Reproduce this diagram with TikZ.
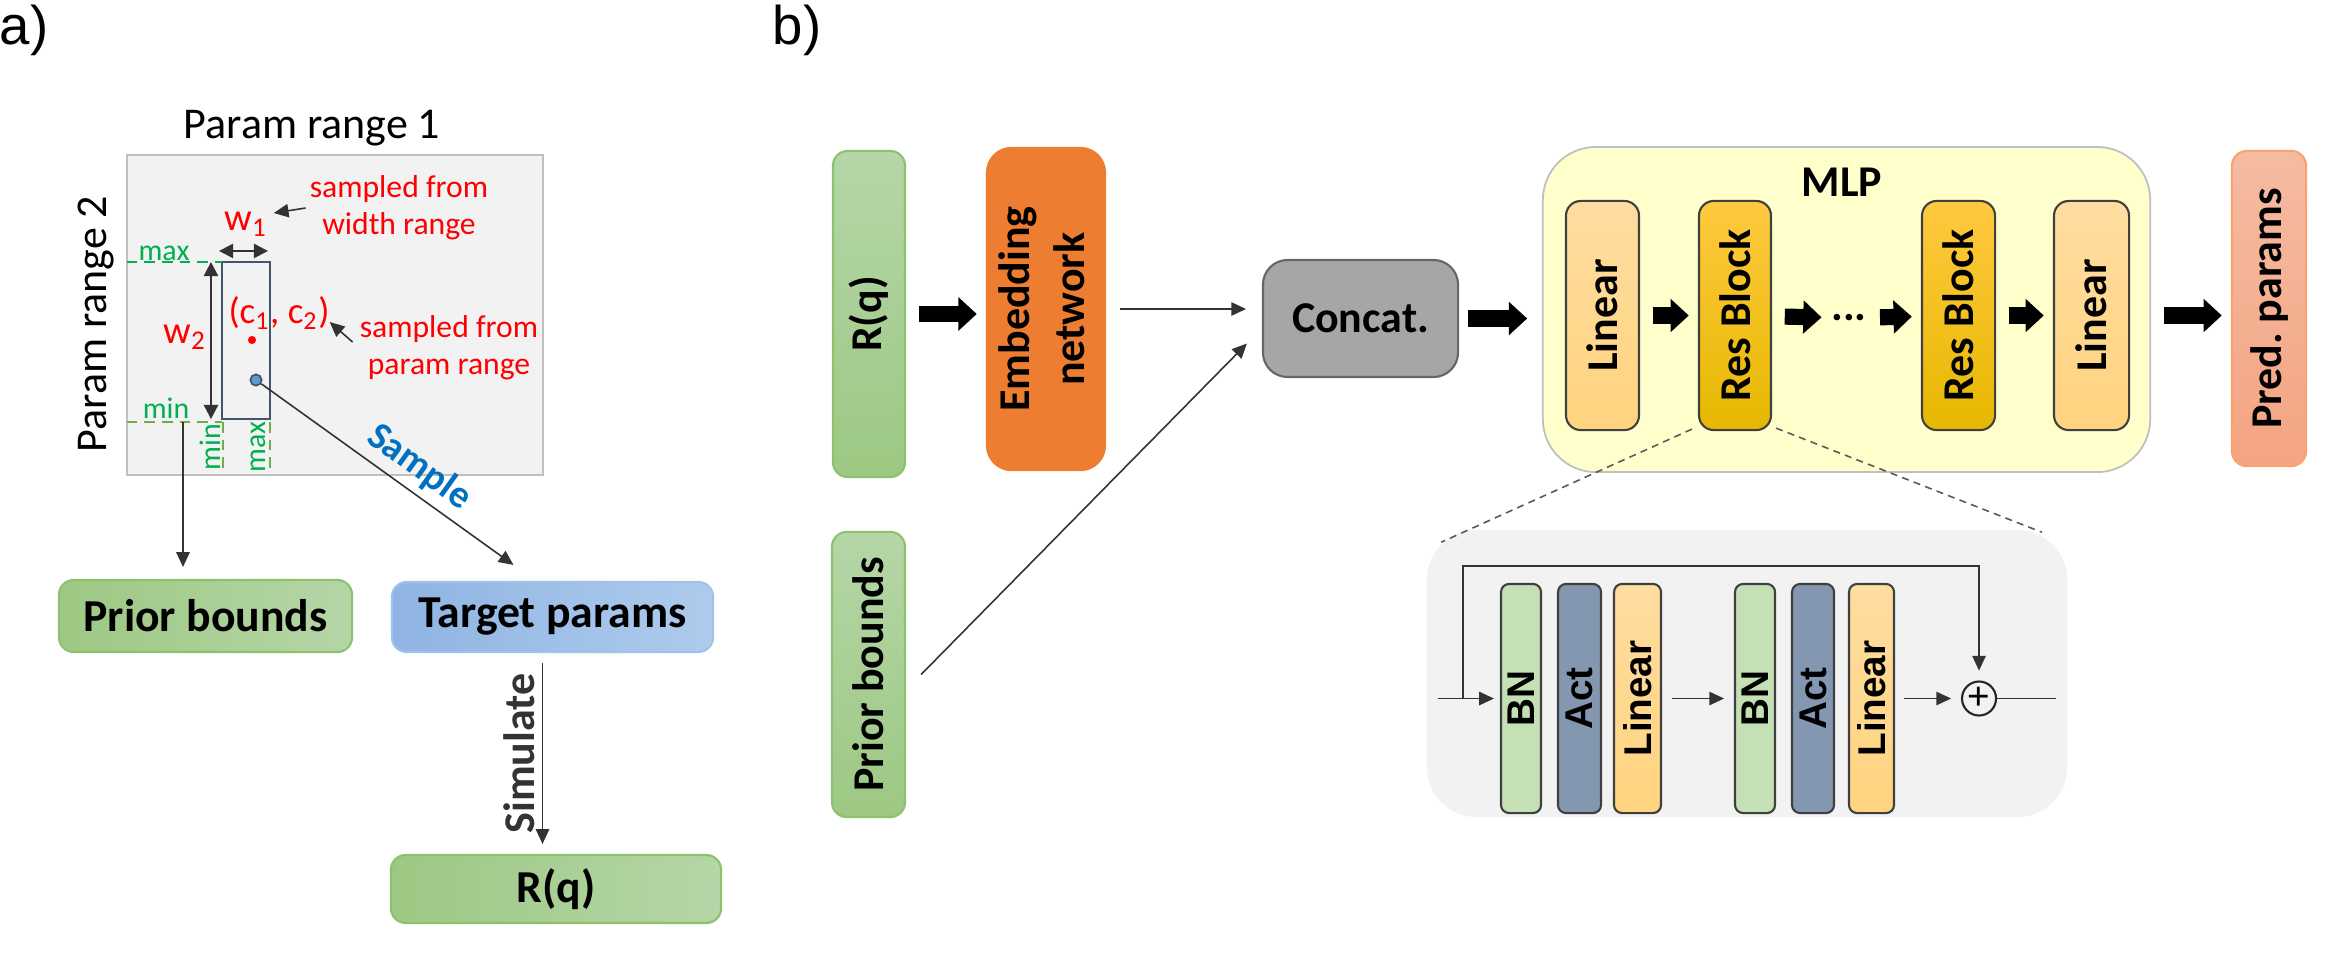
\documentclass[tikz,border=0pt]{standalone}
\usepackage{fontspec}
\setmainfont{Carlito}
\newfontfamily\arialfont{Liberation Sans}
\usepackage{graphicx}
\usepackage{tikz}
\usetikzlibrary{calc,arrows.meta,positioning}
\frenchspacing
\definecolor{rangegray}{HTML}{F2F2F2}
\definecolor{rangeedge}{HTML}{BFBFBF}
\definecolor{navy}{HTML}{44546A}
\definecolor{maxgreen}{HTML}{00B050}
\definecolor{mingreen}{HTML}{70AD47}
\definecolor{sampleblue}{HTML}{0070C0}
\definecolor{dotblue}{HTML}{5B9BD5}
\definecolor{gdark}{HTML}{9DC883}
\definecolor{glight}{HTML}{B5D6A7}
\definecolor{gedge}{HTML}{8CC26E}
\definecolor{bdark}{HTML}{8FB4E3}
\definecolor{blight}{HTML}{AECBEC}
\definecolor{bedge}{HTML}{9DC3E6}
\definecolor{embed}{HTML}{ED7D31}
\definecolor{concat}{HTML}{A6A6A6}
\definecolor{mlpbg}{HTML}{FFFFCC}
\definecolor{lintop}{HTML}{FFDCA0}
\definecolor{linbot}{HTML}{FFD47F}
\definecolor{restop}{HTML}{FFC93F}
\definecolor{resmid}{HTML}{FFC000}
\definecolor{resbot}{HTML}{E6B800}
\definecolor{predtop}{HTML}{F5BBA2}
\definecolor{predbot}{HTML}{F4A482}
\definecolor{prededge}{HTML}{F8A46C}
\definecolor{bngreen}{HTML}{C5E0B4}
\definecolor{actblue}{HTML}{8497B0}
\definecolor{edge}{HTML}{404040}
\newcommand{\vtxt}[1]{\rotatebox{90}{#1}}
\tikzset{
  every node/.style={font=\fontsize{12.5}{15.5}\selectfont},
  arr/.style={-{Triangle[length=4.2pt,width=3.8pt]},line width=0.45pt,black!80},
  dblarr/.style={{Triangle[length=4pt,width=4pt]}-{Triangle[length=4pt,width=4pt]},line width=0.6pt,black!80},
  fat/.style={-{Triangle[length=5.2pt,width=9.2pt]},line width=4.6pt,shorten <=3.6pt,shorten >=2.6pt},
  rangeline/.style={dash pattern=on 3pt off 2pt,line width=0.7pt},
  zoomline/.style={dash pattern=on 2pt off 1.5pt,line width=0.45pt,black!65},
  vbox/.style={draw,rounded corners=4.2pt,inner sep=0pt,line width=0.6pt,font=\fontsize{12.5}{15.5}\selectfont\bfseries},
  hbox/.style={draw,rounded corners=4.2pt,inner sep=0pt,line width=0.6pt,font=\fontsize{13}{15}\selectfont\bfseries},
  bar/.style={draw=edge,rounded corners=2.3pt,inner sep=0pt,line width=0.6pt,minimum height=2.29cm,font=\arialfont\fontsize{11}{12}\selectfont\bfseries},
  redtxt/.style={red,inner sep=1pt,align=center,font=\fontsize{9}{10.5}\selectfont},
  greentxt/.style={maxgreen,inner sep=1pt,font=\fontsize{8.5}{10}\selectfont}
}

\begin{document}
\begin{tikzpicture}[x=0.01cm,y=-0.01cm]
  \useasboundingbox (0,0) rectangle (2328,978);

  % Panel labels
  \node[font=\arialfont\fontsize{15.5}{18}\selectfont] (lbla) at (24,30) {a)};
  \node[font=\arialfont\fontsize{15.5}{18}\selectfont] (lblb) at (797,30) {b)};

  % a) Parameter space
  \node[draw=rangeedge,fill=rangegray,line width=0.5pt,minimum width=4.16cm,minimum height=3.2cm,inner sep=0pt,outer sep=0pt] (space) at (335,315) {};
  \node (prange1) at (312,128) {Param range 1};
  \node (prange2) at (96,324) {\vtxt{Param range 2}};
  \node[draw=navy,line width=0.8pt,minimum width=0.48cm,minimum height=1.57cm,inner sep=0pt,outer sep=0pt] (win) at (246,340.5) {};

  % widths
  \draw[dblarr] ($(win.north west)+(-3,-11)$) -- ($(win.north east)+(-2,-11)$);
  \draw[dblarr] ($(win.north west)+(-11,0)$) -- ($(win.south west)+(-11,0)$);
  \node[red,inner sep=1pt,font=\fontsize{11}{13}\selectfont] (w1) at (246,224) {w\textsubscript{1}};
  \node[red,inner sep=1pt,font=\fontsize{11}{13}\selectfont] (w2) at (185,337) {w\textsubscript{2}};
  \node[red,inner sep=1pt,font=\fontsize{10.5}{13}\selectfont] (cent) at (279,313) {(c\textsubscript{1}, c\textsubscript{2})};
  \node[circle,fill=red,inner sep=0pt,minimum size=2.3pt] (rdot) at (252,340) {};
  \node[circle,fill=dotblue,draw=navy,line width=0.5pt,inner sep=0pt,minimum size=3.2pt] (bdot) at (256,380) {};

  \node[redtxt] (wtxt) at (399,208) {sampled from\\width range};
  \node[redtxt] (ctxt) at (449,348) {sampled from\\param range};
  \draw[arr] (wtxt.west) -- ($(w1.east)+(2,-11)$);
  \draw[arr] ($(ctxt.west)+(-3,-6)$) -- ($(cent.east)+(-4,9)$);

  % min / max
  \node[greentxt] (maxl) at (164,253) {max};
  \node[greentxt] (minl) at (166,408) {min};
  \node[greentxt] (minv) at (210,447) {\vtxt{min}};
  \node[greentxt] (maxv) at (258,447) {\vtxt{max}};
  \draw[rangeline,maxgreen] (space.west |- win.north) -- (win.north west);
  \draw[rangeline,mingreen] ($(space.west |- win.south)+(0,3)$) -- ($(win.south west)+(0,3)$);
  \draw[rangeline,mingreen] ($(win.south west)+(1,3)$) -- ($(win.south west |- space.south)+(1,-7)$);
  \draw[rangeline,mingreen] ($(win.south east)+(0,3)$) -- ($(win.south east |- space.south)+(0,-7)$);
  \coordinate (minpt) at (183,422);

  % a) Boxes
  \node[hbox,left color=gdark,right color=glight,draw=gedge,minimum width=2.93cm,minimum height=0.72cm] (prior) at (205.5,616) {Prior bounds};
  \node[hbox,left color=bdark,right color=blight,draw=bedge,minimum width=3.21cm,minimum height=0.70cm] (target) at (552.5,617) {Target params};
  \node[hbox,left color=gdark,right color=glight,draw=gedge,minimum width=3.30cm,minimum height=0.68cm] (rqa) at (556,889) {R(q)};

  \draw[arr,shorten >=3.4pt] (minpt) -- (minpt |- prior.north);
  \draw[arr] (bdot) -- ($(target.north)+(-39,-16)$)
    node[pos=0.57,sloped,above,sampleblue,inner sep=2pt,font=\fontsize{11}{13}\selectfont\bfseries] {Sample};
  \draw[arr] ($(target.south)+(-10,10)$) -- ($(target.south |- rqa.north)+(-10,-10)$)
    node[midway,left,inner sep=2pt,font=\fontsize{12.5}{15}\selectfont\bfseries] {\vtxt{Simulate}};

  % b) Inputs
  \node[vbox,top color=glight,bottom color=gdark,draw=gedge,minimum width=0.72cm,minimum height=3.26cm] (rqb) at (869,314) {\vtxt{R(q)}};
  \node[vbox,fill=embed,draw=embed,rounded corners=7pt,minimum width=1.18cm,minimum height=3.22cm] (emb) at (1046,309) {\vtxt{\begin{tabular}{@{}c@{}}Embedding\\network\end{tabular}}};
  \node[vbox,top color=glight,bottom color=gdark,draw=gedge,minimum width=0.73cm,minimum height=2.85cm] (priorb) at (868.5,674.5) {\vtxt{Prior bounds}};
  \node[vbox,fill=concat,draw=edge!80,rounded corners=7pt,minimum width=1.95cm,minimum height=1.17cm] (cat) at (1360.5,318.5) {Concat.};

  \draw[fat] (rqb.east) -- (rqb.east -| emb.west);
  \draw[arr,shorten <=4pt,shorten >=4.5pt] (emb.east) -- (emb.east -| cat.west);
  \draw[arr] ($(priorb.east)+(15,0)$) -- ($(cat.west)+(-15,25)$);

  % b) MLP
  \node[fill=mlpbg,draw=rangeedge,line width=0.5pt,rounded corners=0.53cm,minimum width=6.07cm,minimum height=3.25cm] (mlp) at (1846.5,309.5) {};
  \node[font=\fontsize{12.5}{15}\selectfont\bfseries] (mlpname) at (1842,182) {MLP};
  \node[vbox,top color=lintop,bottom color=linbot,draw=edge,minimum width=0.73cm,minimum height=2.29cm] (lin1) at (1602.5,315.5) {\vtxt{Linear}};
  \node[vbox,top color=restop,middle color=resmid,bottom color=resbot,draw=edge,minimum width=0.72cm,minimum height=2.29cm] (res1) at (1735,315.5) {\vtxt{Res Block}};
  \node[inner sep=0pt,font=\fontsize{12.5}{15}\selectfont\bfseries] (dots) at (1849,318) {...};
  \node[vbox,top color=restop,middle color=resmid,bottom color=resbot,draw=edge,minimum width=0.73cm,minimum height=2.29cm] (res2) at (1958.5,315.5) {\vtxt{Res Block}};
  \node[vbox,top color=lintop,bottom color=linbot,draw=edge,minimum width=0.75cm,minimum height=2.29cm] (lin2) at (2091.5,315.5) {\vtxt{Linear}};
  \node[vbox,top color=predtop,bottom color=predbot,draw=prededge,minimum width=0.74cm,minimum height=3.15cm] (pred) at (2269,308.5) {\vtxt{Pred. params}};

  \draw[fat,shorten <=2.6pt,shorten >=4.2pt] (cat.east) -- (cat.east -| mlp.west);
  \draw[fat] (lin1) -- (res1);
  \draw[fat] (res1) -- (dots);
  \draw[fat] (dots) -- (res2);
  \draw[fat] (res2) -- (lin2);
  \draw[fat] (mlp.east |- lin2) -- (pred.west |- lin2);

  % b) Res block detail
  \node[fill=rangegray,rounded corners=0.5cm,minimum width=6.4cm,minimum height=2.87cm,inner sep=0pt] (resid) at (1747,673.5) {};
  \draw[zoomline] ($(res1.south west)+(-6,-2)$) -- ($(resid.north west)+(15,13)$);
  \draw[zoomline] ($(res1.south east)+(4,-3)$) -- ($(resid.north east)+(-26,3)$);

  \node[bar,fill=bngreen,minimum width=0.40cm] (bn1) at (1521,698.5) {\vtxt{BN}};
  \node[bar,fill=actblue,minimum width=0.43cm] (act1) at (1579.5,698.5) {\vtxt{Act}};
  \node[bar,top color=lintop,bottom color=linbot,minimum width=0.47cm] (lr1) at (1637.5,698.5) {\vtxt{Linear}};
  \node[bar,fill=bngreen,minimum width=0.40cm] (bn2) at (1755,698.5) {\vtxt{BN}};
  \node[bar,fill=actblue,minimum width=0.42cm] (act2) at (1813,698.5) {\vtxt{Act}};
  \node[bar,top color=lintop,bottom color=linbot,minimum width=0.45cm] (lr2) at (1871.5,698.5) {\vtxt{Linear}};
  \node[circle,draw=black!85,line width=0.6pt,minimum size=0.34cm,inner sep=0pt,font=\arialfont\fontsize{11}{11}\selectfont] (plus) at (1979,698.5) {+};

  \coordinate (resin) at (1438,698.5);
  \coordinate (skipin) at (1463,698.5);
  \coordinate (skiptop) at (1979,566);
  \coordinate (resout) at (2056,698.5);
  \draw[arr,shorten >=1.7pt] (resin) -- (bn1);
  \draw[arr,shorten >=2.8pt] (skipin) |- (skiptop) -- (plus);
  \draw[arr,shorten <=2.8pt,shorten >=2.8pt] (lr1) -- (bn2);
  \draw[arr,shorten <=2.5pt,shorten >=2.8pt] (lr2) -- (plus);
  \draw[line width=0.45pt,black!80] (plus) -- (resout);
\end{tikzpicture}
\end{document}
